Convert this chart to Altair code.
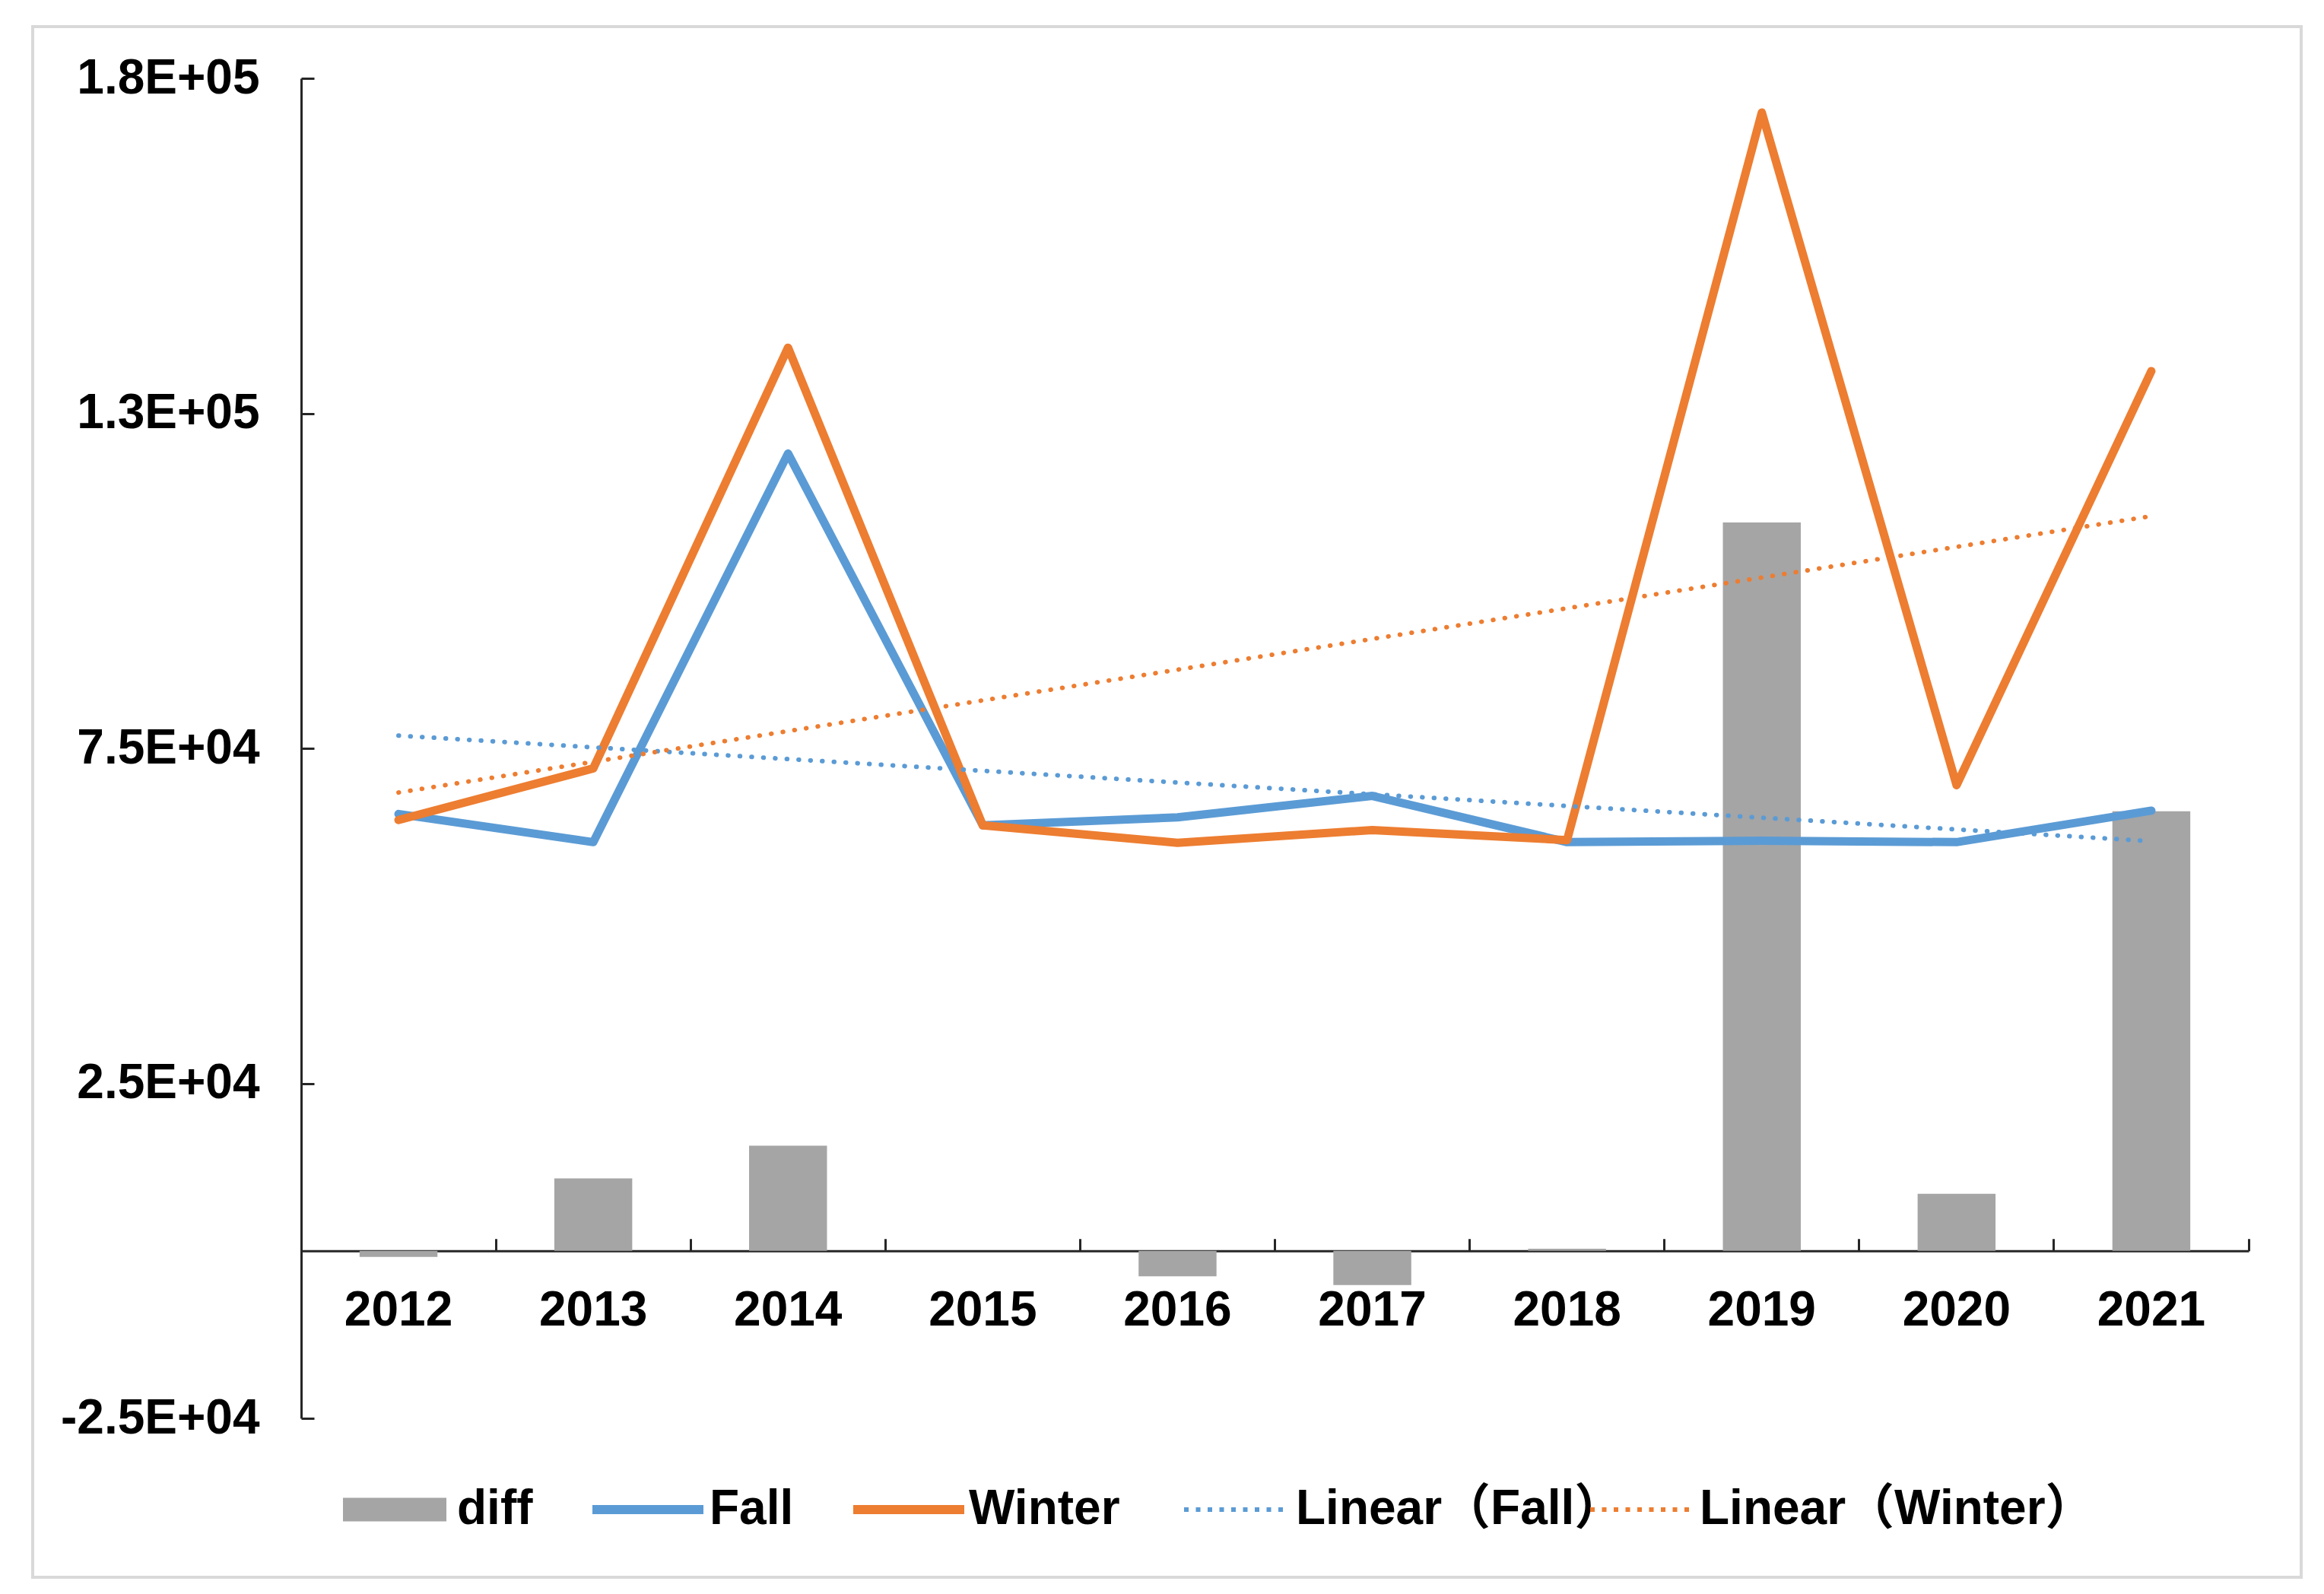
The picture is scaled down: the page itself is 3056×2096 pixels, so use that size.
import altair as alt
import pandas as pd

# ---- data ----
years = [2012, 2013, 2014, 2015, 2016, 2017, 2018, 2019, 2020, 2021]
fall = [65200, 61000, 119000, 63500, 64700, 67900, 61000, 61200, 61000, 65700]
winter = [64300, 72000, 134800, 63500, 60900, 62800, 61300, 169900, 69500, 131300]
diff = [-900, 10800, 15700, 0, -3800, -5100, 300, 108700, 8500, 65600]

series_names = ["diff", "Fall", "Winter", "Linear（Fall）", "Linear（Winter）"]
series_colors = ["#A5A5A5", "#5B9BD5", "#ED7D31", "#5B9BD5", "#ED7D31"]
y_ticks = [-25000, 25000, 75000, 125000, 175000]
y_domain = [-25000, 175000]

bars_df = pd.DataFrame({"year": years, "value": diff, "series": ["diff"] * len(years)})
lines_df = pd.DataFrame({
    "year": years + years,
    "value": fall + winter,
    "series": ["Fall"] * len(years) + ["Winter"] * len(years),
})

# ---- layout ----
W, H = 2561, 1762
PAD_L, PAD_T = 388, 95
ZERO_OFF = H * (0 - y_domain[0]) / (y_domain[1] - y_domain[0])
FONT = "Liberation Sans, Arial, 'Noto Sans CJK SC', sans-serif"
AXIS_COLOR = "#262626"
LEG_CENTER = 1985 - 8 - PAD_T  # legend row centre, relative to plot top


def make_legend(x, sym_len, label_offset, sw, **kw):
    return alt.Legend(
        title=None,
        orient="none",
        legendX=x,
        legendY=LEG_CENTER - (sym_len + sw) / 2,
        padding=0,
        symbolSize=sym_len * sym_len,
        symbolStrokeWidth=sw,
        labelFont=FONT,
        labelFontSize=64,
        labelFontWeight="bold",
        labelColor="black",
        labelOffset=label_offset,
        labelLimit=2000,
        **kw,
    )


def color_for(i, legend):
    return alt.Color(
        "series:N",
        scale=alt.Scale(domain=[series_names[i]], range=[series_colors[i]]),
        legend=legend,
    )


x_scale = alt.Scale(paddingInner=0, paddingOuter=0)
y_scale = alt.Scale(domain=y_domain, nice=False)

axis_x_labels = alt.Axis(
    orient="bottom", offset=-ZERO_OFF, title=None, grid=False,
    ticks=False, tickSize=0, domain=True, domainColor=AXIS_COLOR, domainWidth=3,
    labelFont=FONT, labelFontSize=64, labelFontWeight="bold", labelColor="black",
    labelPadding=47, labelAngle=0, labelOverlap=False, labelLimit=1000,
)
axis_x_ticks = alt.Axis(
    orient="top", offset=-(H - ZERO_OFF), title=None, grid=False,
    ticks=True, tickSize=16, tickWidth=3, tickColor=AXIS_COLOR, bandPosition=0,
    labels=False, domain=False,
)
axis_x_end_tick = alt.Axis(
    orient="top", offset=-(H - ZERO_OFF), title=None, grid=False, values=[years[-1]],
    ticks=True, tickSize=16, tickWidth=3, tickColor=AXIS_COLOR, bandPosition=1,
    labels=False, domain=False,
)
axis_y_labels = alt.Axis(
    orient="left", values=y_ticks, title=None, grid=False,
    ticks=False, tickSize=0, domain=True, domainColor=AXIS_COLOR, domainWidth=3,
    labelFont=FONT, labelFontSize=64, labelFontWeight="bold", labelColor="black",
    labelPadding=55, labelOverlap=False, labelLimit=1000,
    labelExpr="replace(replace(format(datum.value, '.1e'), 'e+', 'E+0'), '\u2212', '-')",
)
axis_y_ticks = alt.Axis(
    orient="right", offset=-W, values=y_ticks, title=None, grid=False,
    ticks=True, tickSize=17, tickWidth=3, tickColor=AXIS_COLOR,
    labels=False, domain=False,
)

# outer light-grey frame (decoration), positioned relative to the plot origin
FL, FT, FR, FB = 43, 35, 3026, 2074  # page coordinates of the frame
frame = alt.Chart(pd.DataFrame({"f": [0]})).mark_rect(
    fill="transparent", stroke="#D9D9D9", strokeWidth=4, clip=False
).encode(
    x=alt.value(FL - 8 - PAD_L), x2=alt.value(FR - 8 - PAD_L),
    y=alt.value(FT - 8 - PAD_T), y2=alt.value(FB - 8 - PAD_T),
)

bars = alt.Chart(bars_df).mark_bar(width={"band": 0.4}).encode(
    x=alt.X("year:O", scale=x_scale, axis=axis_x_labels),
    y=alt.Y("value:Q", scale=y_scale, axis=axis_y_labels),
    color=color_for(0, make_legend(451 - 8 - PAD_L, 136, 14, 0,
                                   symbolType="M-1,-0.228H1V0.228H-1Z")),
)

fall_line = alt.Chart(lines_df).transform_filter(
    "datum.series === 'Fall'"
).mark_line(strokeWidth=11, strokeJoin="round", strokeCap="round").encode(
    x=alt.X("year:O", axis=axis_x_ticks),
    y=alt.Y("value:Q", axis=axis_y_ticks),
    color=color_for(1, make_legend(773 - 8 - PAD_L, 146, 2, 12, symbolType="stroke")),
)

winter_line = alt.Chart(lines_df).transform_filter(
    "datum.series === 'Winter'"
).mark_line(strokeWidth=11, strokeJoin="round", strokeCap="round").encode(
    x=alt.X("year:O", axis=axis_x_end_tick),
    y=alt.Y("value:Q", axis=None),
    color=color_for(2, make_legend(1116 - 8 - PAD_L, 146, 0, 12, symbolType="stroke")),
)


def trend(src, idx, lx, sym_len, lo):
    return alt.Chart(lines_df).transform_filter(
        f"datum.series === '{src}'"
    ).transform_regression(
        on="year", regression="value", method="linear"
    ).transform_calculate(
        series=f"'{series_names[idx]}'"
    ).mark_line(
        strokeWidth=6, strokeDash=[0.5, 15], strokeCap="round"
    ).encode(
        x=alt.X("year:O", axis=None),
        y=alt.Y("value:Q", axis=None),
        color=color_for(idx, make_legend(lx, sym_len, lo, 6, symbolType="stroke",
                                         symbolDash=[6, 9.5])),
    )


fall_trend = trend("Fall", 3, 1554 - 8 - PAD_L, 130, 14)
winter_trend = trend("Winter", 4, 2088 - 8 - PAD_L, 130, 11)

chart = alt.layer(
    frame, bars, fall_line, winter_line, fall_trend, winter_trend
).resolve_axis(
    x="independent", y="independent"
).resolve_scale(
    color="independent"
).properties(
    width=W,
    height=H,
    autosize=alt.AutoSizeParams(type="none"),
    padding={"left": PAD_L, "top": PAD_T, "right": 3040 - PAD_L - W,
             "bottom": 2080 - PAD_T - H},
    background="white",
).configure_view(stroke=None)

chart.save("out.html", embed_options={"renderer": "svg", "actions": False})
